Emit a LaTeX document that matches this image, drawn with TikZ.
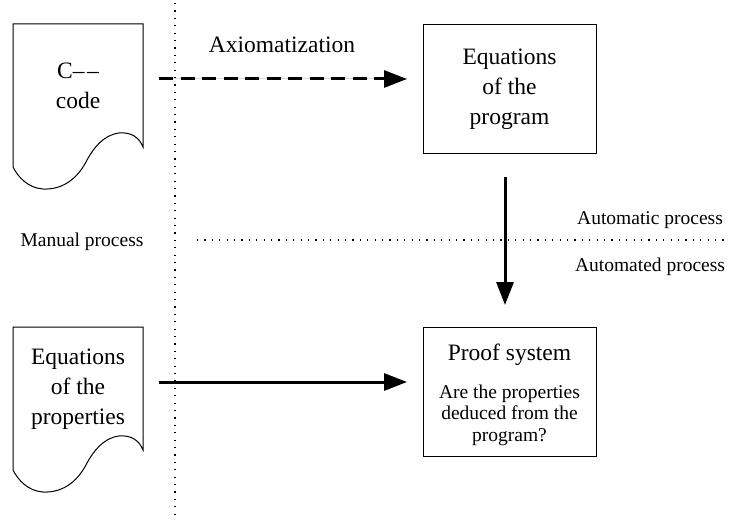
\documentclass[tikz,border=0pt]{standalone}
\usepackage{fontspec}
\setmainfont{Liberation Serif}
\usepackage{tikz}
\usetikzlibrary{arrows.meta}

\tikzset{
  bigtext/.style={inner sep=0.75pt,align=center,font=\fontsize{23.5}{30}\selectfont},
  smalltext/.style={inner sep=0.75pt,align=center,font=\fontsize{19.5}{21.5}\selectfont},
  box/.style={draw,line width=1pt,minimum width=173pt,minimum height=129pt,outer sep=0pt},
  doc/.style={bigtext,minimum width=130pt,minimum height=124pt,outer sep=0pt,inner sep=0pt},
  flow/.style={line width=3pt,-{Triangle[length=23pt,width=17pt]}},
  border/.style={line width=1.2pt,dash pattern=on 1.2pt off 6.2pt}
}
% outline of a document, from its north west corner
\newcommand{\docoutline}[1]{%
  \draw[line width=1pt,shift={(#1.north west)}] (0,0) -- (130,0) -- (130,123)
    .. controls (126,113) and (118,108) .. (106,109)
    .. controls (90,111) and (80,125) .. (74,136)
    .. controls (66,152) and (52,166) .. (30,165)
    .. controls (15,164) and (5,153) .. (0,143) -- cycle;}

\begin{document}
\begin{tikzpicture}[x=1pt,y=1pt,yscale=-1,xscale=1]
\useasboundingbox (0,0) rectangle (730,521);
% manual / automatic borders
\draw[border] (175,3) -- (175,521);
\draw[border] (197,240) -- (730,240);
\node[smalltext] (manual) at (82,242) {Manual process};
\node[smalltext] (automatic) at (650,220) {Automatic process};
\node[smalltext] (automated) at (650,267) {Automated process};
% documents
\node[doc,anchor=north west] (code) at (13,24) {C\textendash\kern2.5pt\textendash\\code};
\docoutline{code}
\node[doc,anchor=north west] (props) at (13,327) {Equations\\of the\\properties};
\docoutline{props}
% boxes
\node[box,bigtext] (prog) at (509.5,89.5) {Equations\\of the\\program};
\node[box] (proof) at (509.5,391.5) {};
\node[bigtext] (prooftitle) at (509.5,355) {Proof system};
\node[smalltext] (question) at (509.5,415) {Are the properties\\deduced from the\\program?};
% arrows
\coordinate (axy) at (0,79);
\coordinate (propy) at (0,382);
\coordinate (downx) at (505,0);
\draw[flow,dash pattern=on 14pt off 7.5pt,shorten <=16pt,shorten >=16pt,
  preaction={draw=black!15,line width=1pt,solid,arrows=-}] (code.east |- axy) -- (prog.west |- axy);
\node[bigtext] (axiom) at (282,45) {Axiomatization};
\draw[flow,shorten <=16pt,shorten >=16pt] (props.east |- propy) -- (proof.west |- propy);
\draw[flow,shorten <=23pt,shorten >=22pt] (prog.south -| downx) -- (proof.north -| downx);
\end{tikzpicture}
\end{document}
